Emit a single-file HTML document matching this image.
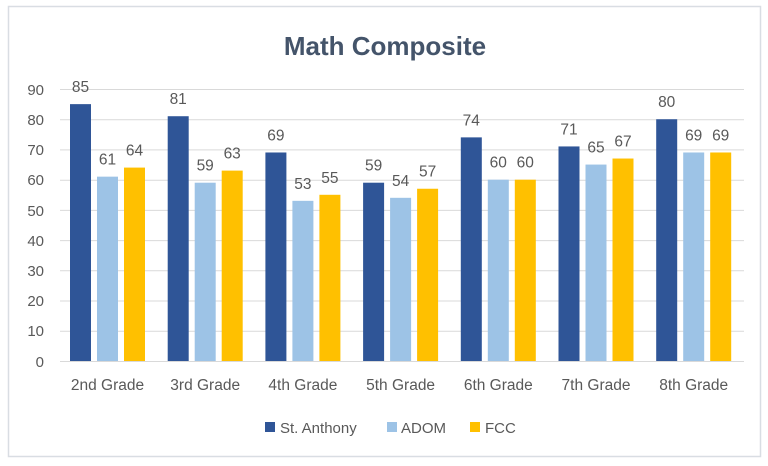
<!DOCTYPE html>
<html><head><meta charset="utf-8"><style>
html,body{margin:0;padding:0;background:#fff;}
svg{display:block;font-family:"Liberation Sans",sans-serif;}
</style></head><body>
<svg width="768" height="466" viewBox="0 0 768 466" xmlns="http://www.w3.org/2000/svg">
<rect x="8.5" y="6.5" width="752" height="450" fill="#fff" stroke="#d9dde3" stroke-width="1.5"/>
<text x="385" y="55" text-anchor="middle" font-size="26" font-weight="bold" fill="#44546a">Math Composite</text>
<g stroke="#d9d9d9" stroke-width="1">
<line x1="60" x2="744" y1="89.5" y2="89.5"/><line x1="60" x2="744" y1="119.7" y2="119.7"/>
<line x1="60" x2="744" y1="149.9" y2="149.9"/><line x1="60" x2="744" y1="180.2" y2="180.2"/>
<line x1="60" x2="744" y1="210.4" y2="210.4"/><line x1="60" x2="744" y1="240.6" y2="240.6"/>
<line x1="60" x2="744" y1="270.8" y2="270.8"/><line x1="60" x2="744" y1="301" y2="301"/>
<line x1="60" x2="744" y1="331.2" y2="331.2"/><line x1="60" x2="744" y1="361.5" y2="361.5"/>
</g>
<g font-size="15" fill="#595959" text-anchor="end">
<text x="44" y="95">90</text><text x="44" y="125">80</text><text x="44" y="155">70</text>
<text x="44" y="185">60</text><text x="44" y="216">50</text><text x="44" y="246">40</text>
<text x="44" y="276">30</text><text x="44" y="306">20</text><text x="44" y="336">10</text>
<text x="44" y="367">0</text>
</g>
<g id="bars"></g>
<g font-size="15.5" fill="#595959" text-anchor="middle" id="labels"></g>
<g font-size="15" fill="#595959">
<rect x="265" y="422" width="10" height="10" fill="#2F5597"/><text x="280" y="433">St. Anthony</text>
<rect x="387" y="422" width="10" height="10" fill="#9DC3E6"/><text x="401" y="433">ADOM</text>
<rect x="470" y="422" width="10" height="10" fill="#FFC000"/><text x="485" y="433">FCC</text>
</g>
<script>
var d=[["2nd Grade",85,61,64],["3rd Grade",81,59,63],["4th Grade",69,53,55],["5th Grade",59,54,57],["6th Grade",74,60,60],["7th Grade",71,65,67],["8th Grade",80,69,69]];
var c=["#2F5597","#9DC3E6","#FFC000"],ns="http://www.w3.org/2000/svg";
var b=document.getElementById("bars"),l=document.getElementById("labels");
function el(p,t,a,txt){var e=document.createElementNS(ns,t);for(var k in a)e.setAttribute(k,a[k]);if(txt!=null)e.textContent=txt;p.appendChild(e);}
d.forEach(function(r,i){var x0=70+97.7*i;
for(var j=0;j<3;j++){var v=r[j+1],x=x0+27*j,y=361-v*3.022;
el(b,"rect",{x:x,y:y,width:21,height:361-y,fill:c[j]});
el(l,"text",{x:x+10.5,y:y-12},v);}
el(l,"text",{x:x0+37.5,y:390},r[0]);});
</script>
</svg>
</body></html>
